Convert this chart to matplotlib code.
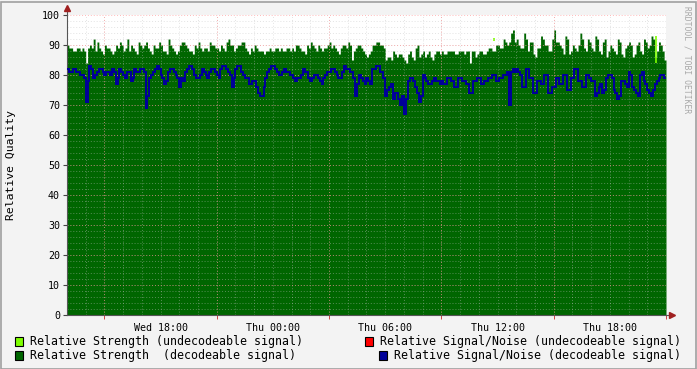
import numpy as np
import pandas as pd
import matplotlib
matplotlib.use('Agg')
import matplotlib.pyplot as plt
import matplotlib.dates as mdates
from matplotlib.patches import Rectangle

# 6-minute samples, Wed 13:00 -> Thu 21:00
start = '2024-01-03 13:00'
step = '6min'

strength = [
    90, 89, 89, 88, 88, 89, 89, 88, 89, 88, 84, 89, 90, 89, 92, 88, 91, 89, 88, 87,
    90, 89, 89, 88, 87, 88, 90, 89, 91, 90, 88, 89, 92, 88, 90, 89, 88, 87, 91, 90,
    89, 90, 91, 89, 88, 87, 90, 89, 89, 91, 90, 88, 88, 87, 92, 90, 89, 88, 87, 88,
    90, 91, 91, 90, 89, 88, 88, 87, 90, 89, 91, 89, 88, 89, 89, 88, 91, 90, 90, 89,
    89, 88, 90, 89, 88, 91, 92, 90, 90, 88, 89, 90, 90, 91, 91, 89, 88, 87, 89, 88,
    90, 89, 88, 88, 88, 87, 88, 88, 89, 88, 88, 89, 89, 88, 89, 88, 88, 89, 89, 88,
    89, 88, 90, 90, 89, 88, 88, 87, 90, 89, 91, 90, 89, 88, 90, 89, 88, 89, 89, 90,
    91, 89, 90, 89, 88, 87, 89, 90, 90, 89, 91, 90, 85, 88, 89, 90, 90, 89, 88, 87,
    86, 87, 88, 90, 90, 91, 91, 90, 90, 89, 85, 86, 86, 85, 88, 87, 86, 87, 87, 86,
    85, 84, 87, 88, 86, 85, 89, 90, 86, 87, 88, 86, 87, 88, 86, 85, 87, 88, 88, 87,
    88, 87, 87, 88, 88, 88, 88, 87, 87, 88, 88, 88, 87, 88, 88, 84, 88, 88, 86, 87,
    88, 88, 87, 87, 88, 89, 89, 88, 88, 90, 90, 89, 89, 92, 91, 90, 91, 94, 95, 91,
    92, 90, 89, 89, 94, 92, 88, 91, 91, 87, 86, 89, 89, 93, 92, 90, 90, 88, 88, 92,
    95, 91, 91, 90, 89, 87, 93, 92, 87, 88, 90, 89, 88, 90, 94, 92, 89, 88, 92, 91,
    89, 88, 93, 92, 88, 87, 91, 92, 86, 88, 90, 89, 88, 87, 92, 91, 87, 86, 89, 90,
    91, 90, 86, 87, 90, 91, 88, 87, 92, 91, 89, 90, 93, 92, 86, 88, 91, 90, 88, 85,
]
snr = [
    82, 81, 81, 82, 82, 81, 81, 80, 80, 79, 71, 78, 83, 82, 79, 80, 81, 82, 82, 81,
    80, 81, 81, 80, 82, 81, 77, 79, 82, 81, 80, 79, 81, 81, 78, 79, 82, 81, 81, 82,
    82, 81, 69, 73, 79, 80, 81, 82, 83, 82, 80, 79, 77, 78, 81, 82, 82, 81, 80, 79,
    76, 79, 78, 81, 82, 83, 83, 82, 80, 79, 79, 80, 82, 81, 80, 79, 81, 82, 82, 81,
    80, 79, 82, 83, 83, 82, 81, 80, 76, 79, 82, 83, 83, 81, 80, 79, 79, 77, 77, 78,
    78, 76, 74, 73, 73, 76, 79, 81, 82, 83, 83, 82, 81, 80, 80, 81, 82, 81, 81, 80,
    80, 79, 78, 79, 79, 80, 82, 81, 81, 79, 78, 79, 80, 80, 79, 78, 77, 79, 80, 81,
    81, 82, 82, 81, 80, 79, 79, 81, 83, 82, 82, 81, 81, 79, 73, 77, 80, 79, 78, 77,
    79, 78, 77, 82, 82, 83, 83, 81, 81, 79, 73, 75, 76, 77, 72, 74, 74, 72, 70, 73,
    67, 72, 78, 79, 79, 78, 76, 74, 71, 73, 80, 79, 78, 77, 77, 78, 79, 78, 78, 77,
    78, 77, 77, 79, 79, 78, 78, 76, 76, 79, 79, 78, 78, 77, 77, 74, 74, 78, 78, 79,
    79, 77, 77, 78, 78, 79, 79, 80, 80, 78, 78, 79, 79, 80, 80, 81, 70, 81, 82, 81,
    82, 81, 80, 76, 76, 82, 82, 79, 79, 74, 74, 78, 78, 77, 77, 80, 80, 74, 74, 76,
    76, 79, 79, 77, 77, 80, 80, 75, 75, 79, 79, 82, 82, 78, 78, 76, 76, 80, 80, 79,
    78, 78, 73, 74, 76, 77, 74, 75, 79, 80, 80, 79, 75, 74, 72, 73, 78, 78, 77, 76,
    81, 80, 76, 75, 74, 73, 80, 81, 78, 77, 75, 74, 73, 75, 77, 78, 79, 80, 80, 79,
]
# undecodeable strength samples (time, low, high)
undec_times = ['2024-01-04 11:50', '2024-01-04 20:28']
undec_low = [91.5, 84]
undec_high = [92.5, 93]

legend_left = ['Relative Strength (undecodeable signal)',
               'Relative Strength  (decodeable signal)']
legend_right = ['Relative Signal/Noise (undecodeable signal)',
                'Relative Signal/Noise (decodeable signal)']

plt.rcParams['font.family'] = ['DejaVu Sans Mono']

times = pd.date_range(start, periods=len(strength) + 1, freq=step)
s_vals = np.append(strength, strength[-1])
n_vals = np.append(snr, snr[-1])

W, H = 697, 369
fig = plt.figure(figsize=(W / 100, H / 100), dpi=100)
fig.patch.set_facecolor('#f3f3f3')
ax = fig.add_axes([67 / W, 1 - 315 / H, 599 / W, 300 / H])
ax.set_facecolor('white')

ax.fill_between(times, 0, s_vals, step='post', color='#006600', lw=0, zorder=1)
ax.step(times, n_vals, where='post', color='#000099', lw=1.2, zorder=3, antialiased=False)
ax.vlines(pd.to_datetime(undec_times), undec_low, undec_high, color='#7fff00', lw=1.2, zorder=2)

ax.set_xlim(times[0], times[-1])
ax.set_ylim(0, 100)

# grid: hourly / every 2 units in grey, 6-hourly / every 10 in red
for t in pd.date_range(times[0], times[-1], freq='1h')[1:]:
    ax.axvline(t, color='#c0c0c0', alpha=0.45, lw=0.7, ls=(0, (1, 2)), zorder=2)
for v in range(2, 100, 2):
    ax.axhline(v, color='#c0c0c0', alpha=0.45, lw=0.7, ls=(0, (1, 2)), zorder=2)
for t in pd.date_range('2024-01-03 15:00', times[-1], freq='6h'):
    ax.axvline(t, color='#ff8080', alpha=0.55, lw=0.7, ls=(0, (1, 2)), zorder=2)
for v in range(10, 101, 10):
    ax.axhline(v, color='#ff8080', alpha=0.55, lw=0.7, ls=(0, (1, 2)), zorder=2)

ax.xaxis.set_major_locator(mdates.HourLocator(byhour=[0, 6, 12, 18]))
ax.xaxis.set_major_formatter(mdates.DateFormatter('%a %H:%M'))
ax.xaxis.set_minor_locator(mdates.HourLocator(byhour=[3, 9, 15, 21]))
ax.tick_params(axis='x', which='major', length=0, pad=6, labelsize=7.2, colors='black')
ax.tick_params(axis='x', which='minor', length=3, color='#cc4444', width=0.7)
ax.set_yticks(range(0, 101, 10))
ax.tick_params(axis='y', which='major', length=3, width=0.8, labelsize=7.2, pad=2, color='#444444')

for sp in ['top', 'right']:
    ax.spines[sp].set_visible(False)
for sp in ['left', 'bottom']:
    ax.spines[sp].set_color('#555555')
    ax.spines[sp].set_linewidth(0.8)

# axis arrows
ax.plot([0, 0], [1, 1.02], transform=ax.transAxes, color='#555555', lw=0.8, clip_on=False)
ax.plot([1, 1.01], [0, 0], transform=ax.transAxes, color='#555555', lw=0.8, clip_on=False)
ax.plot([0], [1.022], marker='^', ms=4, color='#a02020', transform=ax.transAxes, clip_on=False)
ax.plot([1.01], [0], marker='>', ms=4, color='#a02020', transform=ax.transAxes, clip_on=False)

ax.set_ylabel('Relative Quality', fontsize=8.2, labelpad=8)
ax.yaxis.set_label_coords(-0.085, 0.5)

fig.text(687 / W, 1 - 60 / H, 'RRDTOOL / TOBI OETIKER', rotation=270, fontsize=5.8,
         color='#a8a8a8', ha='center', va='center')

# legend
def box(x, y, c):
    fig.patches.append(Rectangle((x / W, 1 - (y + 4.5) / H), 8 / W, 9 / H, transform=fig.transFigure,
                                 facecolor=c, edgecolor='black', lw=0.8))

rows = [341, 355]
box(15, rows[0], '#7fff00')
box(15, rows[1], '#006600')
box(365, rows[0], '#ff0000')
box(379, rows[1], '#000099')
fig.text(30 / W, 1 - rows[0] / H, legend_left[0], fontsize=8.35, va='center')
fig.text(30 / W, 1 - rows[1] / H, legend_left[1], fontsize=8.35, va='center')
fig.text(380 / W, 1 - rows[0] / H, legend_right[0], fontsize=8.35, va='center')
fig.text(394 / W, 1 - rows[1] / H, legend_right[1], fontsize=8.35, va='center')

# frame border
fig.patches.append(Rectangle((0.5 / W, 0.5 / H), (W - 2) / W, (H - 2) / H, transform=fig.transFigure,
                             fill=False, edgecolor='#a0a0a0', lw=1.2))

fig.savefig('out.png', dpi=100, facecolor=fig.get_facecolor())
